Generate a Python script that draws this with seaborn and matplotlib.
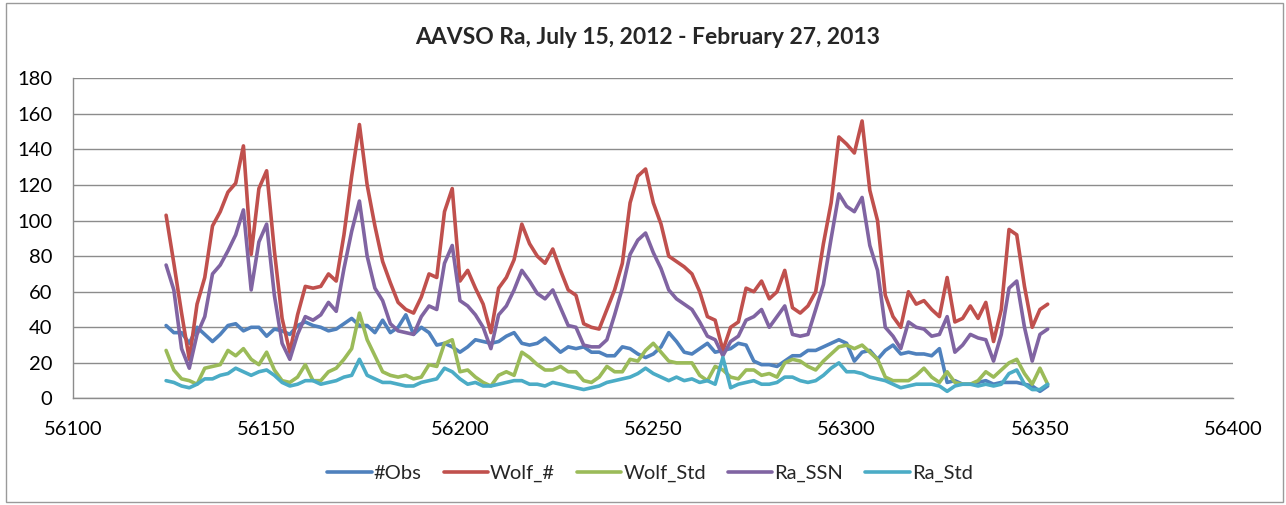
import numpy as np
import pandas as pd
import matplotlib.pyplot as plt
import seaborn as sns
from matplotlib.patches import Rectangle

# MJD days, every 2nd day from 56124 to 56352
days = np.arange(56124, 56353, 2)

obs = [41, 37, 37, 31, 40, 36, 32, 36, 41, 42,
       38, 40, 40, 35, 39, 38, 36, 41, 43, 41,
       40, 38, 39, 42, 45, 41, 41, 37, 44, 37,
       40, 47, 36, 40, 37, 30, 31, 29, 26, 29,
       33, 32, 31, 32, 35, 37, 31, 30, 31, 34,
       30, 26, 29, 28, 29, 26, 26, 24, 24, 29,
       28, 25, 23, 25, 29, 37, 32, 26, 25, 28,
       31, 26, 27, 28, 31, 30, 21, 19, 19, 18,
       21, 24, 24, 27, 27, 29, 31, 33, 31, 21,
       26, 27, 22, 27, 30, 25, 26, 25, 25, 24,
       28, 9, 10, 8, 8, 9, 10, 8, 9, 9,
       9, 8, 7, 4, 7]

wolf = [103, 76, 48, 22, 53, 68, 97, 105, 116, 121,
        142, 81, 118, 128, 83, 45, 26, 47, 63, 62,
        63, 70, 66, 92, 125, 154, 120, 97, 77, 65,
        54, 50, 48, 57, 70, 68, 105, 118, 66, 72,
        62, 53, 37, 62, 68, 78, 98, 87, 80, 76,
        84, 72, 61, 58, 42, 40, 39, 50, 61, 76,
        110, 125, 129, 110, 98, 80, 77, 74, 70, 60,
        46, 44, 27, 40, 43, 62, 60, 66, 56, 60,
        72, 51, 48, 52, 60, 87, 110, 147, 143, 138,
        156, 117, 100, 58, 46, 40, 60, 53, 55, 50,
        46, 68, 43, 45, 52, 45, 54, 32, 50, 95,
        92, 63, 40, 50, 53]

wolf_std = [27, 16, 11, 10, 8, 17, 18, 19, 27, 24,
            28, 22, 19, 26, 16, 10, 9, 12, 19, 10,
            10, 15, 17, 22, 28, 48, 33, 24, 15, 13,
            12, 13, 11, 12, 19, 18, 31, 33, 15, 16,
            12, 9, 7, 13, 15, 13, 26, 23, 19, 16,
            16, 18, 15, 15, 10, 9, 12, 18, 15, 15,
            22, 21, 27, 31, 26, 21, 20, 20, 20, 13,
            10, 18, 16, 12, 11, 16, 16, 13, 14, 12,
            20, 22, 21, 18, 16, 21, 25, 29, 30, 28,
            30, 26, 22, 12, 10, 10, 10, 13, 17, 12,
            9, 15, 9, 8, 8, 10, 15, 12, 16, 20,
            22, 14, 8, 17, 8]

ra_ssn = [75, 61, 28, 17, 36, 46, 70, 75, 83, 92,
          106, 61, 88, 98, 58, 31, 22, 36, 46, 44,
          47, 54, 49, 73, 94, 111, 80, 62, 55, 42,
          38, 37, 36, 46, 52, 50, 76, 86, 55, 52,
          47, 40, 28, 47, 52, 61, 72, 66, 59, 56,
          61, 51, 41, 40, 30, 29, 29, 33, 47, 62,
          81, 89, 93, 82, 73, 61, 56, 53, 50, 43,
          35, 33, 24, 32, 35, 44, 46, 50, 40, 46,
          52, 36, 35, 36, 50, 64, 90, 115, 108, 105,
          113, 86, 72, 40, 35, 28, 43, 40, 39, 35,
          36, 46, 26, 30, 36, 34, 33, 21, 36, 62,
          66, 40, 21, 36, 39]

ra_std = [10, 9, 7, 6, 8, 11, 11, 13, 14, 17,
          15, 13, 15, 16, 13, 9, 7, 8, 10, 10,
          8, 9, 10, 12, 13, 22, 13, 11, 9, 9,
          8, 7, 7, 9, 10, 11, 17, 15, 11, 8,
          9, 7, 7, 8, 9, 10, 10, 8, 8, 7,
          9, 8, 7, 6, 5, 6, 7, 9, 10, 11,
          12, 14, 17, 14, 12, 10, 12, 10, 11, 9,
          10, 8, 23, 6, 8, 9, 10, 8, 8, 9,
          12, 12, 10, 9, 10, 13, 17, 20, 15, 15,
          14, 12, 11, 10, 8, 6, 7, 8, 8, 8,
          7, 4, 7, 8, 8, 7, 8, 7, 8, 14,
          16, 8, 5, 5, 8]

series_names = ['#Obs', 'Wolf_#', 'Wolf_Std', 'Ra_SSN', 'Ra_Std']
colors = ['#4F81BD', '#C0504D', '#9BBB59', '#8064A2', '#4BACC6']

frames = []
for name, vals in zip(series_names, [obs, wolf, wolf_std, ra_ssn, ra_std]):
    frames.append(pd.DataFrame({'MJD': days, 'value': vals, 'series': name}))
df = pd.concat(frames, ignore_index=True)

sns.set_style('white')
plt.rcParams['font.family'] = ['Lato', 'DejaVu Sans']

fig = plt.figure(figsize=(12.86, 5.05), dpi=100)
ax = fig.add_axes([0.057, 0.211, 0.902, 0.634])

sns.lineplot(data=df, x='MJD', y='value', hue='series', hue_order=series_names,
             palette=colors, linewidth=2.6, ax=ax, legend=True)

ax.set_xlim(56100, 56400)
ax.set_ylim(0, 180)
ax.set_xticks(np.arange(56100, 56401, 50))
ax.set_yticks(np.arange(0, 181, 20))
ax.yaxis.grid(True, color='#8c8c8c', linewidth=1)
ax.xaxis.grid(False)
ax.set_axisbelow(True)
ax.set_xlabel('')
ax.set_ylabel('')
for s in ['top', 'right']:
    ax.spines[s].set_visible(False)
for s in ['left', 'bottom']:
    ax.spines[s].set_color('#8c8c8c')
    ax.spines[s].set_linewidth(1)
ax.tick_params(axis='both', colors='#8c8c8c', labelcolor='black', labelsize=14.5,
               length=5, width=1, direction='out')
ax.tick_params(axis='x', pad=11)
ax.tick_params(axis='y', pad=10)

fig.text(0.5035, 0.925, 'AAVSO Ra, July 15, 2012 - February 27, 2013', fontsize=16.5,
         fontweight='bold', ha='center', va='center')

handles, labels = ax.get_legend_handles_labels()
ax.get_legend().remove()
fig.legend(handles, labels, loc='center', bbox_to_anchor=(0.5054, 0.063), ncol=5,
           frameon=False, fontsize=14.5, handlelength=2.2, handletextpad=0.1,
           columnspacing=1.1)

fig.patches.append(Rectangle((0.005, 0.005), 0.993, 0.989, transform=fig.transFigure,
                             fill=False, edgecolor='#9a9a9a', linewidth=1))

fig.savefig('out.png', dpi=100)
